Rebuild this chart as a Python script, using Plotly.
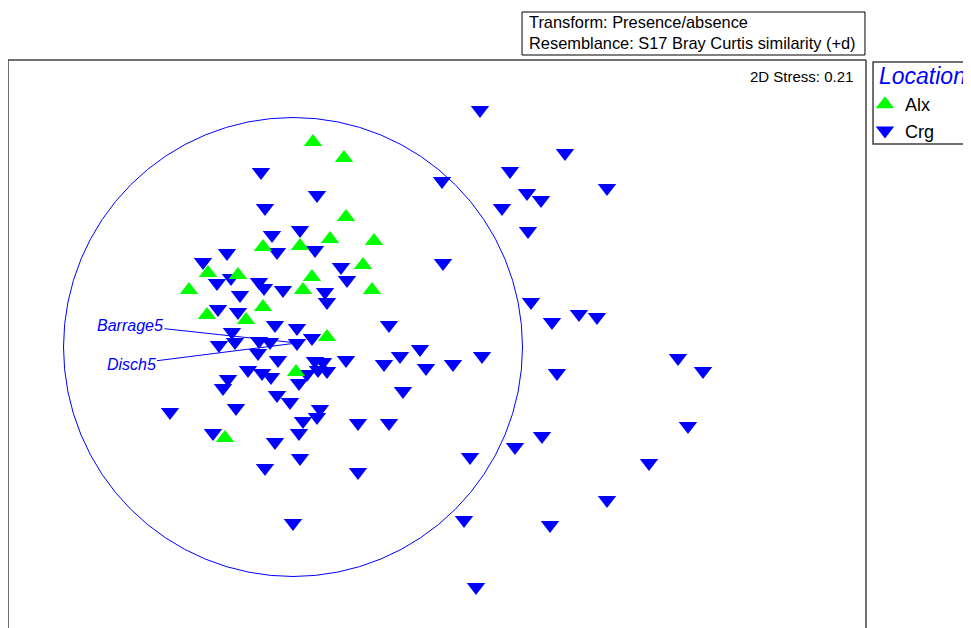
import plotly.graph_objects as go

# NMDS ordination coordinates
alx_mds1 = [0.20, 0.51, 0.53, 0.81, 0.37, 0.07, -0.30, 0.70, 0.79, 0.19,
            0.10, -0.55, -0.85, -1.04, -0.30, -0.86, -0.47, 0.34, 0.03, -0.68]
alx_mds2 = [2.05, 1.89, 1.30, 1.06, 1.08, 1.01, 1.00, 0.82, 0.57, 0.70,
            0.57, 0.72, 0.74, 0.57, 0.40, 0.32, 0.27, 0.10, -0.25, -0.91]

crg_mds1 = [1.87, 2.72, 2.17, 1.49, 3.14, 2.34, 2.48, 2.09, 2.35, 1.50,
            2.38, 2.59, 2.86, 3.04, 0.96, 1.27, 1.07, 0.91, 1.33, 1.60,
            1.89, 2.64, 3.85, 4.10, 1.10, 0.96, 3.95, 2.49, 2.22, 1.77,
            3.56, 3.14, 1.71, 2.57, 1.83, -0.32, 0.24, -0.28, 0.07, -0.21,
            -0.16, 0.22, -0.66, -0.90, 0.48, 0.54, -0.76, -0.62, -0.34, -0.29,
            -0.10, 0.32, 0.34, -0.53, -0.75, -0.55, -0.18, 0.04, -0.61, -0.58,
            -0.74, -0.34, -0.23, 0.04, 0.19, -0.35, -0.15, 0.22, 0.30, 0.53,
            -0.45, -0.31, -0.22, 0.14, 0.25, 0.34, 0.06, -0.65, -0.70, -0.16,
            -0.03, -1.23, -0.57, 0.27, 0.24, 0.10, 0.65, -0.80, -0.18, 0.06,
            0.07, -0.28, 0.65, 0.00]
crg_mds2 = [2.37, 1.94, 1.76, 1.66, 1.59, 1.54, 1.47, 1.39, 1.16, 0.84,
            0.45, 0.25, 0.33, 0.30, 0.22, -0.02, -0.09, -0.17, -0.21, -0.17,
            -0.09, -0.26, -0.11, -0.24, -0.44, -0.76, -0.79, -0.89, -1.00, -1.10,
            -1.16, -1.53, -1.73, -1.78, -2.40, 1.75, 1.52, 1.39, 1.17, 1.12,
            0.95, 0.97, 0.94, 0.85, 0.80, 0.67, 0.64, 0.69, 0.65, 0.59,
            0.57, 0.55, 0.45, 0.52, 0.38, 0.35, 0.22, 0.19, 0.15, 0.05,
            0.02, 0.06, 0.05, 0.04, 0.09, -0.06, -0.13, -0.14, -0.15, -0.13,
            -0.23, -0.26, -0.30, -0.27, -0.23, -0.24, -0.36, -0.32, -0.41, -0.48,
            -0.55, -0.65, -0.61, -0.62, -0.70, -0.74, -0.76, -0.86, -0.95, -0.86,
            -1.11, -1.21, -1.25, -1.76]

# labelled sample (both labels point at the same ordination point)
labelled_point = (0.04, 0.04)
label_names = ["Barrage5", "Disch5"]
label_text_pos = [(-1.63, 0.22), (-1.62, -0.17)]

circle_radius = 2.295
stress_text = "2D Stress: 0.21"
legend_title = "Location"
header_lines = ["Transform: Presence/absence",
                "Resemblance: S17 Bray Curtis similarity (+d)"]

FONT = "Arial, Liberation Sans, sans-serif"
BLUE = "#0000FF"
GREEN = "#00FF00"
FRAME = "#404040"

fig = go.Figure()
fig.add_trace(go.Scatter(
    x=crg_mds1, y=crg_mds2, mode="markers", name="Crg", legendrank=2,
    marker=dict(symbol="triangle-down", size=16, color=BLUE, line=dict(width=0)),
))
fig.add_trace(go.Scatter(
    x=alx_mds1, y=alx_mds2, mode="markers", name="Alx", legendrank=1,
    marker=dict(symbol="triangle-up", size=16, color=GREEN, line=dict(width=0)),
))

# plot area: figure x 0..858, y 52..620 (page is offset by the 8px body margin)
shapes = [
    dict(type="circle", xref="x", yref="y",
         x0=-circle_radius, x1=circle_radius, y0=-circle_radius, y1=circle_radius,
         line=dict(color=BLUE, width=1)),
    # plot frame (bottom edge lies outside the picture)
    dict(type="line", xref="paper", yref="paper", x0=0, x1=0, y0=0, y1=1,
         line=dict(color=FRAME, width=1.5)),
    dict(type="line", xref="paper", yref="paper", x0=0, x1=1, y0=1, y1=1,
         line=dict(color=FRAME, width=1.5)),
    dict(type="line", xref="paper", yref="paper", x0=1, x1=1, y0=0, y1=1,
         line=dict(color=FRAME, width=1.5)),
    # header box
    dict(type="rect", xref="paper", yref="paper",
         x0=0.5991, x1=0.9988, y0=1.0088, y1=1.0845,
         line=dict(color="#000000", width=1), fillcolor="white"),
    # legend box
    dict(type="rect", xref="paper", yref="paper",
         x0=1.0082, x1=1.25, y0=0.8521, y1=0.9965,
         line=dict(color=FRAME, width=1.5), fillcolor="rgba(0,0,0,0)"),
]

annotations = [
    dict(text=header_lines[0], xref="paper", yref="paper", x=0.6049, y=1.0669,
         xanchor="left", yanchor="middle", showarrow=False,
         font=dict(family=FONT, size=16.4, color="black")),
    dict(text=header_lines[1], xref="paper", yref="paper", x=0.6049, y=1.0299,
         xanchor="left", yanchor="middle", showarrow=False,
         font=dict(family=FONT, size=16.4, color="black")),
    dict(text=stress_text, xref="paper", yref="paper", x=0.9872, y=0.9718,
         xanchor="right", yanchor="middle", showarrow=False,
         font=dict(family=FONT, size=15, color="black")),
    dict(text="<i>" + legend_title + "</i>", xref="paper", yref="paper",
         x=1.0128, y=0.9718, xanchor="left", yanchor="middle", showarrow=False,
         font=dict(family=FONT, size=23, color=BLUE)),
]
for name, (tx, ty) in zip(label_names, label_text_pos):
    annotations.append(dict(
        text="<i>" + name + "</i>", x=labelled_point[0], y=labelled_point[1],
        xref="x", yref="y", ax=tx, ay=ty, axref="x", ayref="y",
        showarrow=True, arrowhead=0, arrowwidth=1, arrowcolor=BLUE, standoff=0,
        font=dict(family=FONT, size=16, color=BLUE)))

fig.update_layout(
    width=963, height=620,
    margin=dict(l=0, r=105, t=52, b=0),
    paper_bgcolor="white", plot_bgcolor="white",
    xaxis=dict(range=[-2.85, 5.73], visible=False, fixedrange=True),
    yaxis=dict(range=[-2.81, 2.87], visible=False, fixedrange=True),
    shapes=shapes, annotations=annotations,
    showlegend=True,
    legend=dict(
        font=dict(family=FONT, size=18, color="black"),
        x=0.9988, y=0.8988, xanchor="left", yanchor="middle",
        borderwidth=0, bgcolor="rgba(0,0,0,0)",
        itemwidth=30, tracegroupgap=0,
    ),
)

fig.write_html("out.html")
